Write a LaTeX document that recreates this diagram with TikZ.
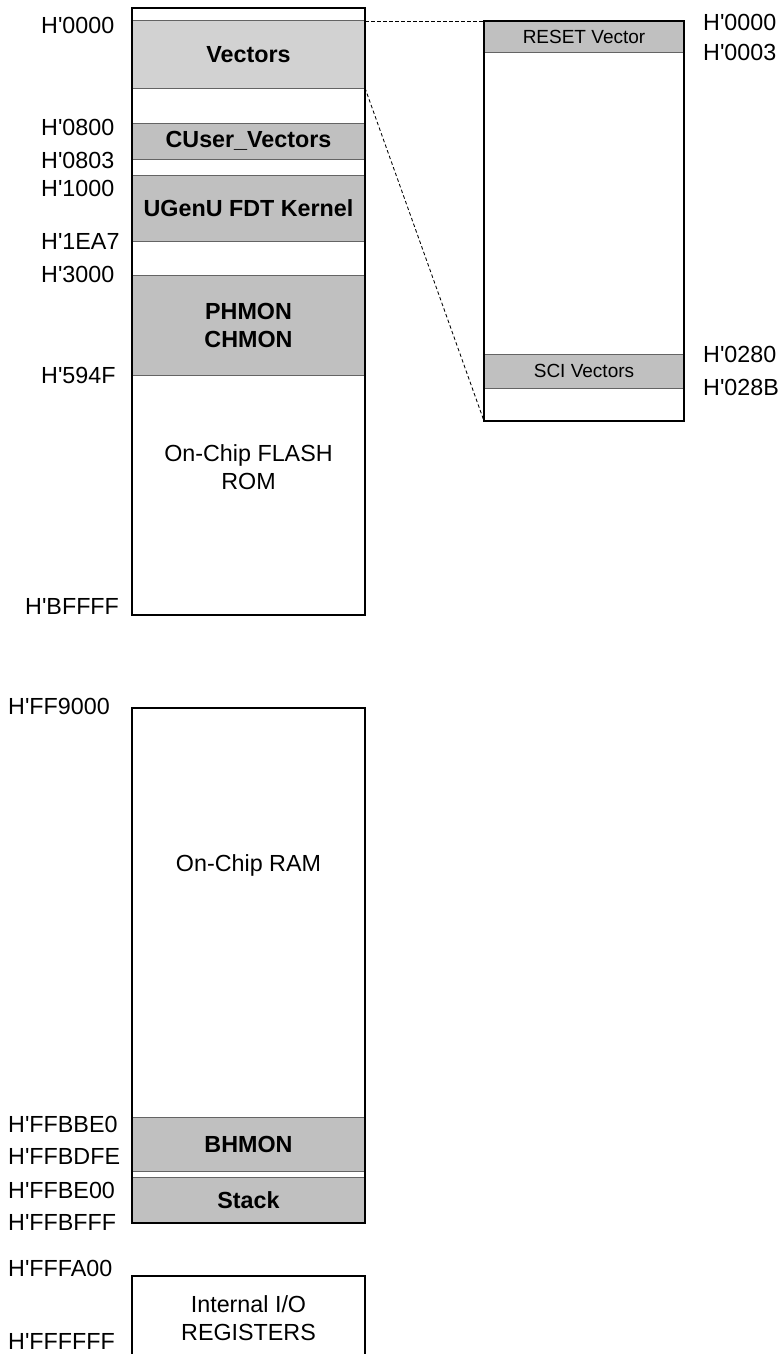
\documentclass[tikz,border=0pt]{standalone}
\usepackage{fontspec}
\setmainfont{Liberation Sans}[Ligatures=TeXOff]
\newcommand\addrfont{\fontsize{23.3}{28.5}\selectfont}
\newcommand\boldlbl{\fontsize{23.3}{28}\selectfont\bfseries}
\newcommand\smalllbl{\fontsize{19}{22}\selectfont}
\definecolor{bandgray}{RGB}{192,192,192}
\definecolor{lightband}{RGB}{210,210,210}
\definecolor{bandline}{RGB}{100,100,100}
\begin{document}
\begin{tikzpicture}[x=1pt,y=-1pt,
  band/.style={draw=bandline, line width=1pt, fill=bandgray, inner sep=0pt, outer sep=0pt,
    minimum width=233pt, anchor=north west, font=\boldlbl, align=center},
  rband/.style={band, minimum width=200pt, font=\smalllbl},
  memframe/.style={draw=black, line width=1.3pt, inner sep=0pt, outer sep=0pt,
    minimum width=233pt, anchor=north west},
  addr/.style={anchor=west, font=\addrfont, inner sep=0pt},
  plain/.style={font=\addrfont, align=center, inner sep=0pt},
  zoomline/.style={draw=black, line width=0.85pt, dash pattern=on 3.5pt off 2.5pt}
]
\useasboundingbox (0,0) rectangle (783,1354);

% ---- Flash ROM block ----
\node[band, fill=lightband, minimum height=67pt] (vec) at (132,21) {Vectors};
\node[band, minimum height=36pt] (cuser) at (132,123) {CUser\_Vectors};
\node[band, minimum height=66pt] (fdt) at (132,175) {UGenU FDT Kernel};
\node[band, minimum height=100pt] (mon) at (132,275) {PHMON\\CHMON};
\node[memframe, minimum height=607pt] (rom) at (132,8) {};
\node[plain] (romtxt) at (248.5,467) {On-Chip FLASH\\ROM};

\node[addr] (a0) at (41,25) {H'0000};
\node[addr] (a1) at (41,127) {H'0800};
\node[addr] (a2) at (41,160) {H'0803};
\node[addr] (a3) at (41,188) {H'1000};
\node[addr] (a4) at (41,241) {H'1EA7};
\node[addr] (a5) at (41,274) {H'3000};
\node[addr] (a6) at (41,375) {H'594F};
\node[addr] (a7) at (25,606) {H'BFFFF};

% ---- Vector detail ----
\node[rband, minimum height=32pt] (reset) at (484,21) {RESET Vector};
\node[rband, minimum height=34pt] (sci) at (484,354) {SCI Vectors};
\node[memframe, minimum width=200pt, minimum height=400pt] (vtab) at (484,21) {};

\node[addr] (r0) at (703,22) {H'0000};
\node[addr] (r1) at (703,52) {H'0003};
\node[addr] (r2) at (703,354) {H'0280};
\node[addr] (r3) at (703,387) {H'028B};

\draw[zoomline] (vec.north east) -- (vtab.north west);
\draw[zoomline] (vec.south east) -- (vtab.south west);

% ---- RAM block ----
\node[band, minimum height=54pt] (bhmon) at (132,1117) {BHMON};
\node[band, minimum height=46pt] (stack) at (132,1177) {Stack};
\node[memframe, minimum height=515pt] (ram) at (132,708) {};
\node[plain] (ramtxt) at (248.5,865) {On-Chip RAM};

\node[addr] (b0) at (8,706) {H'FF9000};
\node[addr] (b1) at (8,1124) {H'FFBBE0};
\node[addr] (b2) at (8,1156) {H'FFBDFE};
\node[addr] (b3) at (8,1190) {H'FFBE00};
\node[addr] (b4) at (8,1222) {H'FFBFFF};

% ---- I/O block ----
\coordinate (ioTL) at (132,1276);
\coordinate (ioTR) at (365,1276);
\draw[line width=1.3pt] (ioTL |- 0,1356) -- (ioTL) -- (ioTR) -- (ioTR |- 0,1356);
\node[plain] (iotxt) at (248.5,1318) {Internal I/O\\REGISTERS};

\node[addr] (c0) at (8,1268) {H'FFFA00};
\node[addr] (c1) at (8,1341) {H'FFFFFF};
\end{tikzpicture}
\end{document}
